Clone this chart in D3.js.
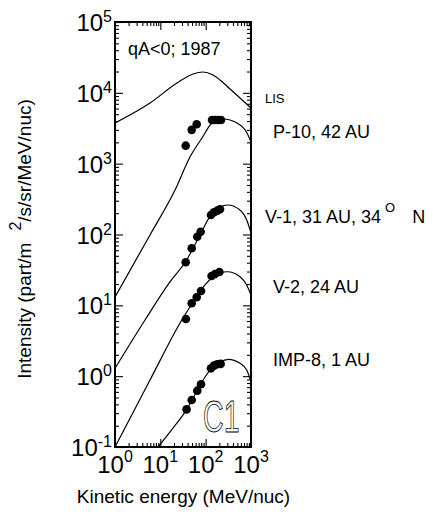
<!DOCTYPE html>
<html>
<head>
<meta charset="utf-8">
<script src="https://cdn.jsdelivr.net/npm/d3@7"></script>
<style>
  body { margin: 0; background: #fff; }
  text { font-family: "Liberation Sans", Arial, Helvetica, sans-serif; fill: #000; }
</style>
</head>
<body>
<svg id="chart" width="435" height="516"></svg>
<script>
// Axis ticks (decades) and their exponent labels
const energyTicks = [1, 10, 100, 1000];
const energyExponents = ["0", "1", "2", "3"];
const intensityTicks = [0.1, 1, 10, 100, 1000, 10000, 100000];
const intensityExponents = ["-1", "0", "1", "2", "3", "4", "5"];

// Model spectra (MeV/nuc, part/m^2/s/sr/MeV/nuc)
const lisCurveE = [1, 5.92, 23.3, 52.6, 87.3, 145, 207, 344, 572, 1000];
const lisCurveI = [3750, 7190, 13770, 18450, 19700, 17850, 15200, 11330, 8460, 6110];

const p10CurveE = [1, 5.92, 21.1, 45.1, 83.0, 138, 241, 491, 817, 1000];
const p10CurveI = [13.1, 98.4, 425, 1242, 2304, 3750, 4275, 3750, 2711, 2024];

const v1CurveE = [1, 4.59, 16.3, 36.8, 75.0, 131, 207, 311, 572, 804, 1000];
const v1CurveI = [1.29, 6.21, 21.4, 42.3, 98.4, 188.6, 244, 261, 222, 160, 105];

const v2CurveE = [1, 5.92, 31.6, 61.2, 96.7, 145, 207, 300, 572, 804, 1000];
const v2CurveI = [0.1, 0.883, 6.63, 12.7, 19.4, 25.1, 28.6, 29.8, 25.4, 19.4, 14.0];

const imp8CurveE = [8.9, 18.1, 38.2, 64.4, 96.7, 145, 207, 316, 572, 804, 1000];
const imp8CurveI = [0.1, 0.177, 0.340, 0.617, 0.973, 1.35, 1.585, 1.73, 1.52, 1.22, 0.836];

// Measured carbon intensities
const p10DotE = [36.3, 49.2, 63.4, 138, 161, 187, 218];
const p10DotI = [1795, 3000, 3600, 4140, 4140, 4140, 4140];

const v1DotE = [36.3, 49.2, 65.3, 77.5, 131, 152.5, 180, 207];
const v1DotI = [40.5, 63.9, 93, 109.6, 188.5, 206, 217, 227];

const v2DotE = [36.7, 49.2, 63.4, 78.9, 135, 161, 201];
const v2DotI = [6.41, 10.7, 13.0, 15.9, 25.9, 27.7, 29.6];

const imp8DotE = [37.9, 49.2, 65.3, 78.9, 131, 152.5, 180, 214];
const imp8DotI = [0.340, 0.461, 0.624, 0.768, 1.29, 1.41, 1.47, 1.49];

const zip = (xs, ys) => xs.map((v, i) => [v, ys[i]]);
const curves = [
  zip(lisCurveE, lisCurveI),
  zip(p10CurveE, p10CurveI),
  zip(v1CurveE, v1CurveI),
  zip(v2CurveE, v2CurveI),
  zip(imp8CurveE, imp8CurveI)
];
const dotSets = [
  zip(p10DotE, p10DotI),
  zip(v1DotE, v1DotI),
  zip(v2DotE, v2DotI),
  zip(imp8DotE, imp8DotI)
];

const svg = d3.select("#chart");
const plotLeft = 115, plotRight = 251, plotTop = 22, plotBottom = 447;

const x = d3.scaleLog().domain([1, 1000]).range([plotLeft, plotRight]);
const y = d3.scaleLog().domain([0.1, 1e5]).range([plotBottom, plotTop]);

function minorTicks(domain) {
  const out = [];
  for (let d = domain[0]; d < domain[1] * 0.999; d *= 10) {
    for (let k = 2; k <= 9; k++) out.push(d * k);
  }
  return out;
}
const xMinor = minorTicks([1, 1000]);
const yMinor = minorTicks([0.1, 1e5]);

svg.append("clipPath").attr("id", "plot-clip")
  .append("rect").attr("x", plotLeft).attr("y", plotTop)
  .attr("width", plotRight - plotLeft).attr("height", plotBottom - plotTop);

// Inward ticks on all four sides
function tickAxis(axis, values, len, transform) {
  const g = svg.append("g").attr("transform", transform)
    .call(axis.tickValues(values).tickSize(len).tickFormat(""));
  g.select(".domain").remove();
  g.selectAll("line").attr("stroke", "#000").attr("stroke-width", 1.1);
}
tickAxis(d3.axisBottom(x), energyTicks, -8, `translate(0,${plotBottom})`);
tickAxis(d3.axisBottom(x), xMinor, -4, `translate(0,${plotBottom})`);
tickAxis(d3.axisTop(x), energyTicks, -8, `translate(0,${plotTop})`);
tickAxis(d3.axisTop(x), xMinor, -4, `translate(0,${plotTop})`);
tickAxis(d3.axisLeft(y), intensityTicks, -8, `translate(${plotLeft},0)`);
tickAxis(d3.axisLeft(y), yMinor, -4, `translate(${plotLeft},0)`);
tickAxis(d3.axisRight(y), intensityTicks, -8, `translate(${plotRight},0)`);
tickAxis(d3.axisRight(y), yMinor, -4, `translate(${plotRight},0)`);

svg.append("rect")
  .attr("x", plotLeft).attr("y", plotTop)
  .attr("width", plotRight - plotLeft).attr("height", plotBottom - plotTop)
  .attr("fill", "none").attr("stroke", "#000").attr("stroke-width", 2);

// Spectra
const line = d3.line()
  .x(d => x(d[0])).y(d => y(d[1]))
  .curve(d3.curveMonotoneX);
svg.append("g").attr("clip-path", "url(#plot-clip)")
  .selectAll("path").data(curves).join("path")
  .attr("d", line)
  .attr("fill", "none").attr("stroke", "#000").attr("stroke-width", 1.2);

// Data points
svg.append("g").selectAll("g").data(dotSets).join("g")
  .selectAll("circle").data(d => d).join("circle")
  .attr("cx", d => x(d[0])).attr("cy", d => y(d[1]))
  .attr("r", 4.3).attr("fill", "#000");

// Tick labels as 10 with superscript exponent
const xl = svg.append("g").selectAll("text").data(energyTicks).join("text")
  .attr("x", d => x(d)).attr("y", 473)
  .attr("text-anchor", "middle").attr("font-size", 24);
xl.append("tspan").text("10");
xl.append("tspan").attr("font-size", 16).attr("dy", -11)
  .text((d, i) => energyExponents[i]);

const yl = svg.append("g").selectAll("text").data(intensityTicks).join("text")
  .attr("x", 112).attr("y", d => y(d) + 9)
  .attr("text-anchor", "end").attr("font-size", 24);
yl.append("tspan").text("10");
yl.append("tspan").attr("font-size", 16).attr("dy", -9)
  .text((d, i) => intensityExponents[i]);

// Axis titles
svg.append("text")
  .attr("x", (75 + 292) / 2).attr("y", 503)
  .attr("text-anchor", "middle").attr("font-size", 19)
  .text("Kinetic energy (MeV/nuc)");

const yt = svg.append("text")
  .attr("transform", "translate(31,239) rotate(-90)")
  .attr("text-anchor", "middle").attr("font-size", 19);
yt.append("tspan").text("Intensity (part/m");
yt.append("tspan").attr("dx", 12).attr("dy", -10).attr("font-size", 16).text("2");
yt.append("tspan").attr("dy", 10).text("/s/sr/MeV/nuc)");

// Panel annotations
svg.append("text").attr("x", 128).attr("y", 55).attr("font-size", 18)
  .text("qA<0; 1987");

svg.append("text").attr("x", 265).attr("y", 103).attr("font-size", 13)
  .text("LIS");
svg.append("text").attr("x", 273).attr("y", 138).attr("font-size", 18)
  .text("P-10, 42 AU");
const v1 = svg.append("text").attr("x", 265).attr("y", 223).attr("font-size", 18);
v1.append("tspan").text("V-1, 31 AU, 34");
v1.append("tspan").attr("dx", 4).attr("dy", -11).attr("font-size", 13).text("O");
v1.append("tspan").attr("dx", 17).attr("dy", 11).text("N");
svg.append("text").attr("x", 273).attr("y", 293).attr("font-size", 18)
  .text("V-2, 24 AU");
svg.append("text").attr("x", 273).attr("y", 366).attr("font-size", 18)
  .text("IMP-8, 1 AU");

// Panel tag in outline lettering
svg.append("text")
  .attr("transform", "translate(203,432) scale(0.65,1)")
  .attr("font-size", 44)
  .style("fill", "none").attr("stroke", "#000").attr("stroke-width", 0.9)
  .text("C1");
</script>
</body>
</html>
